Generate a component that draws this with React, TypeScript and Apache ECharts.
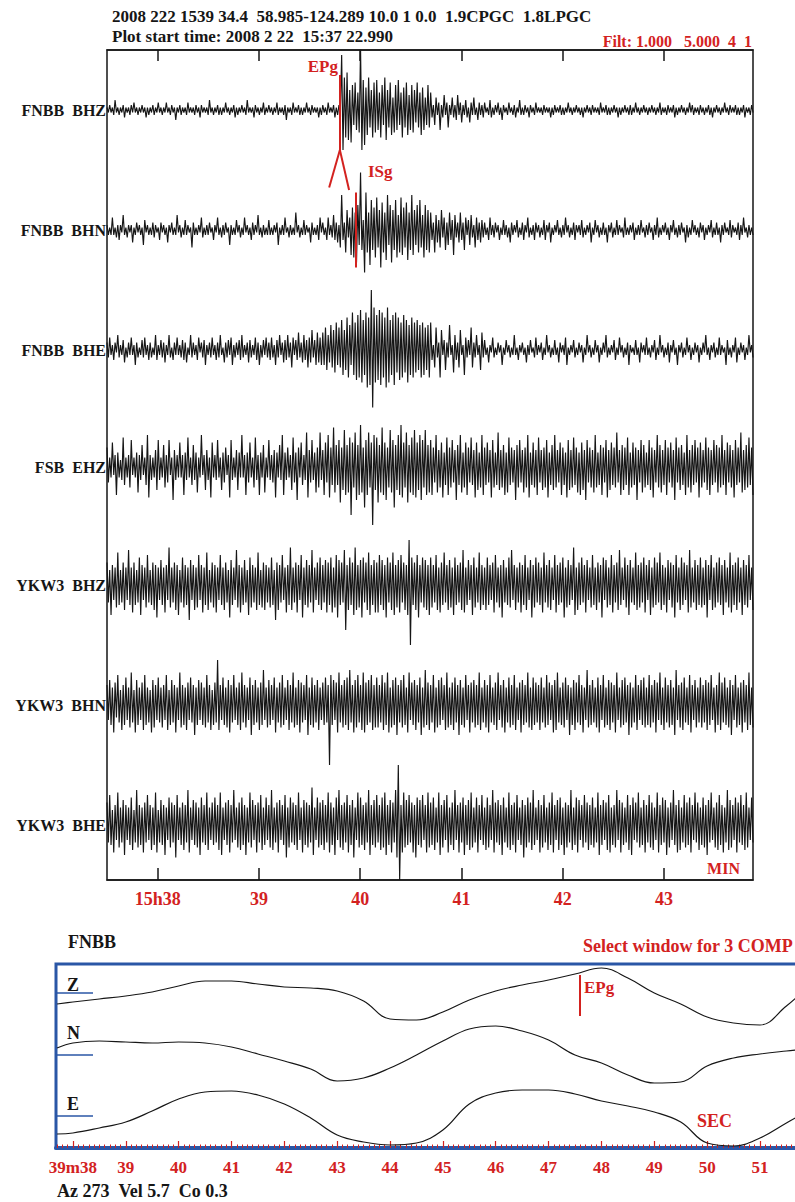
import React, { useEffect, useRef } from "react";
import * as echarts from "echarts";

const RED = "#d3221f";
const INK = "#161616";
const BLUE = "#2a56a6";
const SERIF = '"Liberation Serif", "DejaVu Serif", serif';
const SP = "\u00a0";

// ---------- main seismogram panel ----------
const mainStart = 37.5; // minutes after 15h
const mainEnd = 43.88;
const mainTickMinutes = [38, 39, 40, 41, 42, 43];
const mainTickLabels = ["15h38", "39", "40", "41", "42", "43"];
const traceLabels = ["FNBB  BHZ", "FNBB  BHN", "FNBB  BHE", "FSB  EHZ", "YKW3  BHZ", "YKW3  BHN", "YKW3  BHE"];
const traceCenters = [308, 260, 212, 165, 118, 70, 22];

// each char = one peak: A..Z = +1..+26, a..z = -1..-26
const traceBHZ = [
  "AaBaAbDaAbAaBcAaAbBaCaAbAaBaAcAbAaBbAaCa",
  "AbAaCaAbBaAdAaBbAaAbCaAaAbBaAcBaAaAbDaAb",
  "AaBbAbAaCaAbAaBcAbAaBaAbDaAaAcBaAbAaCbAa",
  "BaAbAaCbAaAbBdAaAbCaAaBbAbAaCaAbBaAaAcAb",
  "BaAbCaAaBcAbBaVpMkOlHmJfKhGiYpLnIjMgHkKi",
  "LhGkJfMlHgKjEiJhLfGkIgKjFhJiHeKgGjIhEfJg",
  "GcBfEbChBcFbCgBbEcBdFbCeBbDcAeCbEbAdCbBc",
  "CaAbDcAbBaCbAdBaAbCaAbBcAaDbAbBaAcBaAbCa",
  "AaAbBaAaAcAbBaAaBbAbAaCaAbAaBaAbAcAaBaAb",
  "BaAaAbCaAaBbAbAaBaAcAbAaBaAbBbAaCaAbAaBa",
  "AbAaBaAbAaCbAaAbBaAaBcAbAaBaAbAaCaBbAaAb",
  "BaAbAaBbAcAaBaAbAaCaAbBaAaBbAbAaBcAaAbBa",
].join("");
const traceBHN = [
  "BbAbEbAcBdBaFbAcBaBeAbCaBbAfDaBbAbCcBaAd",
  "CaBbAeBaCbAbFaBcAbDbBaAgCbAbBaEcAbBbCaAd",
  "BaEbAcBbCaAfBbAbDaBcAbEaBbAdCbBaFbAcBbAb",
  "DbAbBaCfAbBbEaAcBbAbGaBcAbDbBaAeCbAbBdEa",
  "CbAdEbBcFdCeBgNdCiHcEjIkGmJfWhDqOiGnLhIk",
  "MgHoKiGlNfJmHhLkFiMjIgKlGhNjHfJiLgFkJhHi",
  "GdCiFeDgHcEhCfGdDjFcCeGdChEbDfFcBgEdCeDc",
  "CbAdEbBcCaBdAbDbBcAeCbBaDcAbCdBaEcAbBdCa",
  "BcAbDdBaCeAbBaDbAcBbEaBcAbCdBaBbDcAbBaCe",
  "AbDaBcAbCbAeBaCcAbDbBaAcEbAbBaCdAbBbDaAc",
  "BbCaAdBbEcAbBaCbAdBaDbAcBbCaAeBcAbDaBbAc",
  "CaBdAbBaDcAbCbAeBbCaAbDcBaAbCdBbEaAcBbAb",
].join("");
const traceBHE = [
  "CcEbBdCaFcBbDeAcCbEbBfCcAbDcEbBdCcAbFdBb",
  "DcCeBbFcAdCbEbBcDdCeAbFcCbBdEaCcDfBbCcEb",
  "BdCcFbAeCcDbEfBcCbDdFcBbCeDcBbEdCfBcDbEc",
  "CdEcBfDcFbCeDdFcCgEbDdGcCeFdDgEeHcDfGeEf",
  "GfIhFeJgHiKfIgLjHhMkJfOjKlNkPmLjOoMnXwQm",
  "NlPnOkMoQmLjNnOiMlKkNiLmJjMkKiLhJkKjIhJk",
  "KdBgIcCkHbDhCcJbBiFdCgHbBjEcDbIgCcFbBhGc",
  "DbAeBaEcAbCaBfAbDaBcAbFbAdBaCbAeBbDaAcEb",
  "BaCdAbFaBcAbDbAeCaBbEfAbBaDcAbCaBeAbFaBc",
  "AbDaBeAbCaFcAbBaDdAbEaBcAbCfBaAbDbAeCaBb",
  "EbAcBaDdAbFaBcAbCeBaDbAfBaCcAbEaBdAbCaBe",
  "AbCaFbAdBaCcAbEbBaAfDbAcBaEeAbCaBdAbFaBc",
].join("");
const traceFSB = [
  "HfDdJcEkFdCeLgDdEhKcDdFjEeIcDgMlEeDdGiKe",
  "DdIhEfKcDmGeEdJdEkFeLdDgIeFjDdMcEiGeDlJd",
  "EeKdDiFfHcElKeDdGiFdMdEkFfJdDhLeEkFdIjDd",
  "KeEfGlFdIeMkFeHdEiLfFmHdJgEeNlGfKeFjHhNe",
  "GkJfMlHgPjIgKnHiOkIjLsJhNmIkQjHpKkNhJwMi",
  "LnIjPkJmHhOjKpIiMkQlJhNnIjLkOlJiMmKhOkIj",
  "KkHfMjGhJlFgLkHhKfGmIgMjFhJkHfLgGlJiFhMk",
  "HgJfGlKhFgNiGhIkFjLgHfGmIhKfGjHhMlFgJhGk",
  "LfGiHhKlFgIiMhGfJkHgFlKiGhLgHjFkJiGmKfHh",
  "GjMhFgIkHfKlGiJgHhNfGkIiHgLkFhJgHmGfKjIh",
  "FgKiHlGfMhIjGgKkHfJhGmLfHiIgFkMhGjIgKfHl",
  "JhGfLiHkGgKfIjHhMgGkJfIhGlKgHfNjGiIhLgHk",
].join("");
const traceYKZ = [
  "IgFlHfGiMhFgIjGfNhGkIhFgKlHfGiLgFhIjHmGf",
  "JhGkHfOiGgIjHlFgKiHhGnJfHjGiLfHkGhMjFgIi",
  "HkGfLhGjIgFmJhGfNiHkGhJgFlKiHgGjMhFiIjHg",
  "GiKhFnIjHgLfGkHhOjGgIkHfLmGhJiHgNkGfIhKj",
  "HgJkIhKkGiLmJhIgNrHjKhIlOjHiJmKgIjMlHhJk",
  "IkLhJjHmKgIjMlHiJkLgIjHlRxKhIjLmHgKiJjHl",
  "KiHgLjGkIhMgHjJiGlKhHgIjNkGhJfHlKiGgMjHh",
  "GjKhHfIkLgGiHmJgGhKiNfHjGgIkHhLjGfJmHiKg",
  "IhGkMgHiJjGfLkHhIgKmGiJhHfOlGjIhKgHkJfGi",
  "LhGjIgHmKfJiGhLkHgIjNhGfKiHlJgGhMjHiIgKk",
  "HfJlGiKhIgMjHhGkJfIiHmLgGjKhIfHkNiGgJjHh",
  "KiGhJmHfLjGiIgKhHlJgGiMkHhIjKgGlJhHiLfGj",
].join("");
const traceYKN = [
  "HfJhGkIeLgFjHhKfGiMgFkJhGfIjLhGgFkJiHfKg",
  "GiHfLjFhJgHkGfMiHhGjIfKgHlGhJfIhGiLgHjFh",
  "IgRjHfKhGiJkHgLfGhIjMgHiGfKlHhJgGjIhNfGi",
  "JhHfKkGgIiLhGfJjHgMiGhJkIgHfLlGhKiHgJjGf",
  "IhKgHxLhJfIkMgHiJhKjNgHkJiLgHjMkIhJgLjHi",
  "KiHgLjIhMkGiJhKlHgJiLhGkMfIhJjHgKlGiNhIj",
  "HgLkGiJhKfHjMiGhIjKgHlJhGiLfHkIgJiHhMjGg",
  "JiHkLgGhIjMfHiJkGgKiHhLjGfIkJhHgMiGjKhIg",
  "HjKgGiLhIfHkJjMgGhIiKfHlGhJjIgLhHkGfNiHh",
  "JgGiKkHfLiGhJjIgHkMfGiJhKgHlIiGgLjHfJhKi",
  "GhLiHgJkIfMhGjKgHiJhGlNfHiIjKgGhLkHfJiGg",
  "KiHgJjIhLfGkHhMjIgKhGiJlHfLiGhIkJgHjMhGi",
].join("");
const traceYKE = [
  "IgLhFkHfMiGgJlHfGhKjFgNiHhGkIgLfHjGhMkFg",
  "JhHlGfKiIgHmLfGhIjHgNkGfJhIiGlKgHhMjGfIh",
  "KgHjMlGfIhJkHgNfGiIjKhHlGgMiJfHkIgLjGhKf",
  "HiNjGgIkJfHhLmGiKgIhHjMfGkJhIiHgOlGfKiIh",
  "JjHgMkIhGlKfNiHjIgLkHhJmGfMiKhHjIgNlHhJi",
  "LgHjKiMlHhJkIgNmXvHkMiJhLgIkHmKhJiLfHkMi",
  "IhKjGgMlHiJfLkGhIjNfHkIgKlHhJjMiGgKkHfLh",
  "GjKiHfNkIgJhHlKgGiMjHhIkLfGhJmHiKgIjNhGf",
  "JkHiLgGjIhMkHfJjKhGlIiHgNjGhKkJfHiLgIjHh",
  "KiGgMlHhJfIjLkGhHiNfJkIhGgLjHlKfIgMiGhJk",
  "HgLiIjGfMkHhKgJlGiIfNhHkJjGgLiIhKkHfMgIj",
  "GhKiHlJgMfGiIjLhHkGgNjJiHfKkIgLhHjMiGfKg",
].join("");
const traceCodes = [traceBHZ, traceBHN, traceBHE, traceFSB, traceYKZ, traceYKN, traceYKE];

// picks (minutes) and marker ends (trace units)
const pickEPg = 39.8;
const pickISg = 39.96;
const epgLine = [322, 292];
const epgVee = [[39.694, 277], [39.8, 292], [39.891, 276]];
const isgLine = [275, 245];

// ---------- 3-component window ----------
const compSeconds = [37.7, 38, 38.5, 39, 39.5, 40, 40.5, 41, 41.5, 42, 42.5, 43, 43.5, 44, 44.5, 45, 45.5, 46, 46.5, 47, 47.5, 48, 48.5, 49, 49.5, 50, 50.5, 51, 51.5, 51.7];
const compZ = [-11, -9, -6, -3, 1, 7, 12, 12, 9, 6, 5, 2, -8, -26, -27, -19, -7, 2, 8, 13, 19, 25, 15, 0, -11, -24, -30, -32, -13, -4];
const compN = [7, 12, 14, 13, 12, 13, 12, 8, 1, -6, -14, -26, -23, -13, 0, 14, 26, 29, 24, 15, 0, -8, -20, -28, -27, -11, -3, 1, 4, 5];
const compE = [-18, -17, -12, -6, 5, 17, 24, 25, 21, 12, -2, -19, -26, -29, -27, -14, 12, 23, 26, 26, 22, 15, 10, 4, -6, -27, -30, -22, -7, -1];
const compBaselines = [155, 93, 32];
const secTicks = [38, 39, 40, 41, 42, 43, 44, 45, 46, 47, 48, 49, 50, 51];
const secLabels = ["39m38", "39", "40", "41", "42", "43", "44", "45", "46", "47", "48", "49", "50", "51"];
const compStart = 37.68;
const compEnd = 52.23;
const compPickEPg = 47.59;

const decode = (code: string): number[] =>
  Array.from(code).map((ch) => {
    const c = ch.charCodeAt(0);
    if (c >= 65 && c <= 90) return c - 64;
    if (c >= 97 && c <= 122) return -(c - 96);
    return 0;
  });

const nb = (s: string) => s.replace(/ {2}/g, " " + SP).replace(/ {1}(?= )/g, SP);

function buildOption() {
  const minorTicks: number[] = [];
  for (let t = Math.ceil(compStart * 10); t <= Math.floor(compEnd * 10); t++) minorTicks.push(t / 10);

  const traceSeries = traceCodes.map((code, k) => {
    const vals = decode(code);
    const n = vals.length;
    const data = vals.map((v, i) => [mainStart + (i * (mainEnd - mainStart)) / (n - 1), traceCenters[k] + v]);
    const s: any = {
      type: "line",
      xAxisIndex: 0,
      yAxisIndex: 0,
      data,
      showSymbol: false,
      symbol: "none",
      lineStyle: { color: INK, width: 1.15 },
      silent: true,
      clip: true,
    };
    const redLine = { color: RED, width: 2, type: "solid" };
    if (k === 0) {
      s.markLine = {
        symbol: ["none", "none"],
        silent: true,
        label: { show: false },
        lineStyle: redLine,
        data: [
          [{ coord: [pickEPg, epgLine[0]] }, { coord: [pickEPg, epgLine[1]] }],
          [{ coord: epgVee[0] }, { coord: epgVee[1] }],
          [{ coord: epgVee[1] }, { coord: epgVee[2] }],
        ],
      };
    }
    if (k === 1) {
      s.markLine = {
        symbol: ["none", "none"],
        silent: true,
        label: { show: false },
        lineStyle: redLine,
        data: [[{ coord: [pickISg, isgLine[0]] }, { coord: [pickISg, isgLine[1]] }]],
      };
    }
    return s;
  });

  const comps = [compZ, compN, compE];
  const compSeries = comps.map((arr, k) => {
    const s: any = {
      type: "line",
      xAxisIndex: 2,
      yAxisIndex: 1,
      smooth: 0.4,
      data: compSeconds.map((t, i) => [t, compBaselines[k] + arr[i]]),
      showSymbol: false,
      symbol: "none",
      lineStyle: { color: INK, width: 1.2 },
      silent: true,
      clip: true,
      markLine: {
        symbol: ["none", "none"],
        silent: true,
        label: { show: false },
        lineStyle: { color: BLUE, width: 1.5, type: "solid" },
        data: [[{ coord: [compStart, compBaselines[k]] }, { coord: [38.38, compBaselines[k]] }]] as any[],
      },
    };
    if (k === 0) {
      s.markLine.data.push([
        { coord: [compPickEPg, 173], lineStyle: { color: RED, width: 2, type: "solid" } },
        { coord: [compPickEPg, 132] },
      ]);
    }
    return s;
  });

  const txt = (text: string, x: number, y: number, opts: any = {}) => ({
    type: "text",
    x,
    y,
    silent: true,
    style: {
      text: nb(text),
      fill: opts.fill || INK,
      fontFamily: SERIF,
      fontWeight: "bold",
      fontSize: opts.size || 17,
      align: opts.align || "left",
      verticalAlign: "middle",
    },
  });

  return {
    animation: false,
    backgroundColor: "#ffffff",
    grid: [
      { left: 107, top: 50, width: 646, height: 830, show: true, borderColor: INK, borderWidth: 1.5, backgroundColor: "transparent" },
      { left: 56, top: 964, width: 769, height: 184, show: true, borderColor: BLUE, borderWidth: 3, backgroundColor: "transparent" },
      { left: 56, top: 964, width: 769, height: 184, show: false },
    ],
    xAxis: [
      {
        type: "value", gridIndex: 0, position: "bottom", min: mainStart, max: mainEnd,
        axisLine: { show: true, lineStyle: { color: INK, width: 1.5 } },
        axisTick: { show: true, inside: true, length: 12, customValues: mainTickMinutes, lineStyle: { color: INK, width: 1.5 } },
        axisLabel: {
          customValues: mainTickMinutes,
          formatter: (v: number) => mainTickLabels[mainTickMinutes.indexOf(v)] ?? "",
          color: RED, fontWeight: "bold", fontSize: 18, fontFamily: SERIF, margin: 10,
        },
        splitLine: { show: false },
      },
      {
        type: "value", gridIndex: 0, position: "top", min: mainStart, max: mainEnd,
        axisLine: { show: true, lineStyle: { color: INK, width: 1.5 } },
        axisTick: { show: true, inside: true, length: 11, customValues: mainTickMinutes, lineStyle: { color: INK, width: 1.5 } },
        axisLabel: { show: false },
        splitLine: { show: false },
      },
      {
        type: "value", gridIndex: 1, position: "bottom", min: compStart, max: compEnd,
        axisLine: { show: true, lineStyle: { color: BLUE, width: 4 } },
        axisTick: { show: true, inside: true, length: 7, customValues: secTicks, lineStyle: { color: RED, width: 1.2 } },
        axisLabel: {
          customValues: secTicks,
          formatter: (v: number) => secLabels[secTicks.indexOf(v)] ?? "",
          color: RED, fontWeight: "bold", fontSize: 17, fontFamily: SERIF, margin: 11,
        },
        splitLine: { show: false },
      },
      {
        type: "value", gridIndex: 2, position: "bottom", min: compStart, max: compEnd,
        axisLine: { show: false },
        axisTick: { show: true, inside: true, length: 3.5, customValues: minorTicks, lineStyle: { color: RED, width: 1 } },
        axisLabel: { show: false },
        splitLine: { show: false },
      },
    ],
    yAxis: [
      {
        type: "value", gridIndex: 0, min: 0, max: 332,
        axisLine: { show: false }, axisTick: { show: false }, splitLine: { show: false },
        axisLabel: {
          customValues: traceCenters,
          formatter: (v: number) => nb(traceLabels[traceCenters.indexOf(v)] ?? ""),
          color: INK, fontWeight: "bold", fontSize: 16, fontFamily: SERIF, margin: 1,
        },
      },
      { type: "value", gridIndex: 1, min: 0, max: 184, show: false },
      { type: "value", gridIndex: 2, min: 0, max: 184, show: false },
    ],
    series: [...traceSeries, ...compSeries],
    graphic: [
      txt("2008 222 1539 34.4  58.985-124.289 10.0 1 0.0  1.9CPGC  1.8LPGC", 112, 16),
      txt("Plot start time: 2008 2 22  15:37 22.990", 112, 36),
      txt("Filt: 1.000   5.000  4  1", 752, 41, { fill: RED, size: 16, align: "right" }),
      txt("EPg", 338, 66, { fill: RED, size: 17, align: "right" }),
      txt("ISg", 368, 171, { fill: RED, size: 17 }),
      txt("MIN", 740, 868, { fill: RED, size: 16, align: "right" }),
      txt("FNBB", 68, 942, { size: 18 }),
      txt("Select window for 3 COMP", 583, 946, { fill: RED, size: 18 }),
      txt("Z", 67, 985, { size: 18 }),
      txt("N", 67, 1033, { size: 18 }),
      txt("E", 67, 1104, { size: 18 }),
      txt("EPg", 584, 987, { fill: RED, size: 17 }),
      txt("SEC", 697, 1121, { fill: RED, size: 18 }),
      txt("Az 273  Vel 5.7  Co 0.3", 57, 1191, { size: 18 }),
    ],
  };
}

export default function App() {
  const ref = useRef<HTMLDivElement>(null);
  useEffect(() => {
    if (!ref.current) return;
    const chart = echarts.init(ref.current, null, { renderer: "svg" });
    chart.setOption(buildOption() as any);
    return () => chart.dispose();
  }, []);
  return (
    <div style={{ position: "absolute", left: 0, top: 0, width: 795, height: 1202, overflow: "hidden", background: "#ffffff" }}>
      <div ref={ref} style={{ position: "absolute", left: 0, top: 0, width: 840, height: 1202 }} />
    </div>
  );
}
